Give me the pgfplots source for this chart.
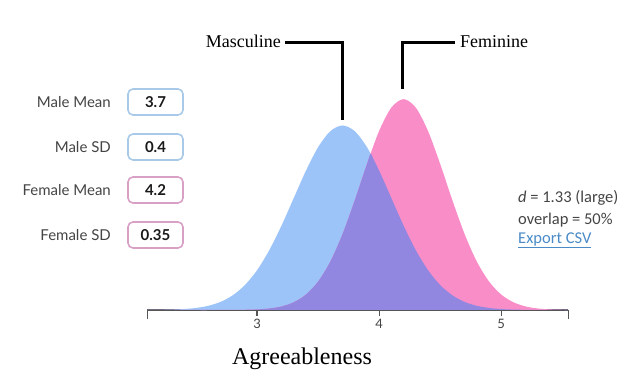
\documentclass[border=0pt]{standalone}
\usepackage{pgfplots}
\pgfplotsset{compat=1.18}
\usepackage{fontspec}
\setmainfont{Liberation Serif}
\newfontfamily\lato{Lato}
\newfontfamily\calib{Carlito}
\definecolor{mblue}{RGB}{157,196,248}
\definecolor{fpink}{RGB}{248,141,200}
\definecolor{ovl}{RGB}{146,135,224}
\definecolor{bblue}{RGB}{168,202,232}
\definecolor{bpink}{RGB}{217,160,198}
\definecolor{lbl}{RGB}{68,68,68}
\definecolor{axgray}{RGB}{85,85,85}
\definecolor{linkblue}{RGB}{74,139,199}
\begin{document}
\begin{tikzpicture}[x=1pt,y=1pt]
\useasboundingbox (0,0) rectangle (630,386);
\begin{axis}[
  at={(147.3pt,76pt)}, anchor=south west,
  scale only axis, width=421pt, height=296pt,
  xmin=2.1, xmax=5.55, ymin=0, ymax=1.6,
  axis y line=none, axis x line*=bottom,
  x axis line style={axgray, line width=1.3pt},
  xtick={3,4,5},
  extra x ticks={2.1,5.55}, extra x tick labels={},
  extra x tick style={major tick length=9pt},
  major tick length=6pt, tick align=outside,
  x tick style={axgray, line width=1.3pt},
  /pgf/number format/assume math mode=true,
  xticklabel style={font=\lato\fontsize{13}{13}\selectfont, text=lbl},
  clip=false,
]
\addplot[fill=mblue, draw=none, smooth] coordinates {
(2.1,0.0003)(2.2,0.0009)(2.3,0.0022)(2.4,0.0051)(2.5,0.0111)(2.6,0.0227)(2.7,0.0438)(2.8,0.0794)(2.9,0.1350)(3.0,0.2157)(3.1,0.3238)(3.2,0.4566)(3.3,0.6049)(3.4,0.7529)(3.5,0.8802)(3.6,0.9667)(3.7,0.9974)(3.8,0.9667)(3.9,0.8802)(4.0,0.7529)(4.1,0.6049)(4.2,0.4566)(4.3,0.3238)(4.4,0.2157)(4.5,0.1350)(4.6,0.0794)(4.7,0.0438)(4.8,0.0227)(4.9,0.0111)(5.0,0.0051)(5.1,0.0022)(5.2,0.0009)(5.3,0.0003)(5.4,0.0001)(5.5,0)(5.55,0)
} \closedcycle;
\addplot[fill=fpink, draw=none, smooth] coordinates {
(2.1,0)(2.2,0)(2.3,0)(2.4,0)(2.5,0)(2.6,0)(2.7,0.0001)(2.8,0.0004)(2.9,0.0012)(3.0,0.0032)(3.1,0.0082)(3.2,0.0192)(3.3,0.0418)(3.4,0.0837)(3.5,0.1543)(3.6,0.2622)(3.7,0.4108)(3.8,0.5932)(3.9,0.7894)(4.0,0.9681)(4.1,1.0942)(4.2,1.1398)(4.3,1.0942)(4.4,0.9681)(4.5,0.7894)(4.6,0.5932)(4.7,0.4108)(4.8,0.2622)(4.9,0.1543)(5.0,0.0837)(5.1,0.0418)(5.2,0.0192)(5.3,0.0082)(5.4,0.0032)(5.5,0.0012)(5.55,0.0007)
} \closedcycle;
\addplot[fill=ovl, draw=none, smooth] coordinates {
(2.1,0)(2.2,0)(2.3,0)(2.4,0)(2.5,0)(2.6,0)(2.7,0.0001)(2.8,0.0004)(2.9,0.0012)(3.0,0.0032)(3.1,0.0082)(3.2,0.0192)(3.3,0.0418)(3.4,0.0837)(3.5,0.1543)(3.6,0.2622)(3.7,0.4108)(3.8,0.5932)(3.85,0.6914)(3.9,0.7894)(3.93,0.845)(3.95,0.8204)(4.0,0.7529)(4.05,0.6801)(4.1,0.6049)(4.2,0.4566)(4.3,0.3238)(4.4,0.2157)(4.5,0.1350)(4.6,0.0794)(4.7,0.0438)(4.8,0.0227)(4.9,0.0111)(5.0,0.0051)(5.1,0.0022)(5.2,0.0009)(5.3,0.0003)(5.4,0.0001)(5.5,0)(5.55,0)
} \closedcycle;
\end{axis}
% annotations
\draw[line width=3pt, miter limit=10] (342,266) -- (342,343.3) -- (285,343.3);
\draw[line width=3pt] (402,297) -- (402,343.3) -- (455,343.3);
\node[anchor=base east, inner sep=0] at (281,338.5) {\fontsize{18}{18}\selectfont Masculine};
\node[anchor=base west, inner sep=0] at (460,338.5) {\fontsize{18}{18}\selectfont Feminine};
\node[anchor=base, inner sep=0] at (302,21) {\fontsize{24}{24}\selectfont Agreeableness};
% input boxes
\begin{scope}[every node/.style={inner sep=0}]
\foreach \yc/\lab/\val/\col in {284/Male Mean/3.7/bblue, 239/Male SD/0.4/bblue, 196/Female Mean/4.2/bpink, 151/Female SD/0.35/bpink}{
  \draw[\col, line width=1.6pt, rounded corners=5pt] (128,\yc-13) rectangle (183,\yc+13);
  \node[anchor=east, text=lbl] at (111,\yc) {\lato\fontsize{15}{15}\selectfont \lab};
  \node[text=black!90] at (155.5,\yc) {\lato\bfseries\fontsize{15}{15}\selectfont \val};
}
\end{scope}
\node[anchor=west, inner sep=0, text=lbl] at (518,188) {\calib\fontsize{16.5}{16.5}\selectfont \textit{d} = 1.33 (large)};
\node[anchor=west, inner sep=0, text=lbl] at (518,166) {\calib\fontsize{16.5}{16.5}\selectfont overlap = 50\%};
\node[anchor=west, inner sep=0, text=linkblue] at (518,146) {\calib\fontsize{16.5}{16.5}\selectfont \underline{Export CSV}};
\end{tikzpicture}
\end{document}
